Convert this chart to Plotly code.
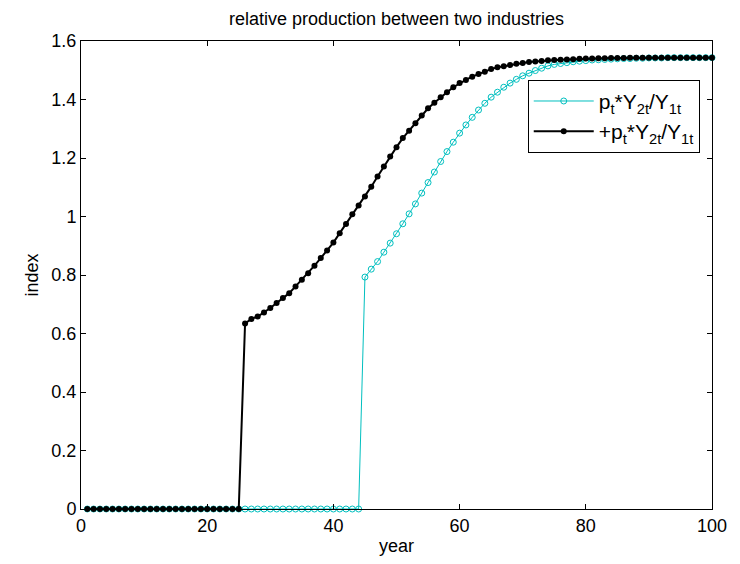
import plotly.graph_objects as go

years = list(range(1, 101))

# cyan series: p_t*Y_2t/Y_1t  (zero until year 44)
cyan_vals = [0.0] * 44 + [
    0.793, 0.820, 0.846, 0.878, 0.909, 0.941, 0.975, 1.009, 1.043, 1.080,
    1.116, 1.152, 1.188, 1.222, 1.254, 1.285, 1.313, 1.339, 1.364, 1.387,
    1.408, 1.425, 1.442, 1.456, 1.469, 1.481, 1.490, 1.499, 1.507, 1.515,
    1.520, 1.523, 1.526, 1.529, 1.531, 1.533, 1.535, 1.536, 1.537, 1.538,
    1.539, 1.540, 1.540, 1.541, 1.541, 1.542, 1.542, 1.542, 1.543, 1.543,
    1.543, 1.543, 1.543, 1.543, 1.543, 1.543,
]

# black series: +p_t*Y_2t/Y_1t  (zero until year 25)
black_vals = [0.0] * 25 + [
    0.634, 0.650, 0.658, 0.672, 0.687, 0.704, 0.721, 0.738, 0.761, 0.784,
    0.806, 0.832, 0.858, 0.884, 0.911, 0.943, 0.974, 1.008, 1.038, 1.068,
    1.102, 1.137, 1.171, 1.205, 1.237, 1.268, 1.293, 1.319, 1.345, 1.370,
    1.389, 1.408, 1.425, 1.442, 1.456, 1.467, 1.478, 1.487, 1.495, 1.504,
    1.510, 1.514, 1.518, 1.522, 1.525, 1.528, 1.530, 1.532, 1.534, 1.535,
    1.536, 1.537, 1.538, 1.539, 1.540, 1.540, 1.541, 1.541, 1.542, 1.542,
    1.542, 1.543, 1.543, 1.543, 1.543, 1.543, 1.543, 1.543, 1.543, 1.543,
    1.543, 1.543, 1.543, 1.543, 1.543,
]

x_ticks = [0, 20, 40, 60, 80, 100]
y_ticks = [0, 0.2, 0.4, 0.6, 0.8, 1.0, 1.2, 1.4, 1.6]
y_tick_text = ["0", "0.2", "0.4", "0.6", "0.8", "1", "1.2", "1.4", "1.6"]

CYAN = "rgb(0,191,191)"
FONT = "Liberation Sans, Arial, sans-serif"
FS = 18

fig = go.Figure()
fig.add_trace(go.Scatter(
    x=years, y=cyan_vals, mode="lines+markers",
    name="p<sub>t</sub>*Y<sub>2t</sub>/Y<sub>1t</sub>",
    line=dict(color=CYAN, width=1),
    marker=dict(symbol="circle-open", size=6, color=CYAN, line=dict(width=1, color=CYAN)),
    cliponaxis=False,
))
fig.add_trace(go.Scatter(
    x=years, y=black_vals, mode="lines+markers",
    name="+p<sub>t</sub>*Y<sub>2t</sub>/Y<sub>1t</sub>",
    line=dict(color="black", width=2),
    marker=dict(symbol="circle", size=6, color="black"),
    cliponaxis=False,
))

fig.update_layout(
    width=740, height=564,
    margin=dict(l=81, r=28, t=41, b=55),
    paper_bgcolor="white", plot_bgcolor="white",
    font=dict(family=FONT, size=FS, color="black"),
    title=dict(text="relative production between two industries", x=0.5, xref="paper",
               xanchor="center", y=1 - 19 / 564, yanchor="middle",
               font=dict(family=FONT, size=FS, color="black")),
    showlegend=True,
    legend=dict(x=0.708, y=0.917, xanchor="left", yanchor="top",
                bgcolor="white", bordercolor="black", borderwidth=1,
                font=dict(family=FONT, size=21, color="black"),
                itemwidth=60, tracegroupgap=0),
)
fig.update_xaxes(
    range=[0, 100], tickvals=x_ticks, ticktext=[str(v) for v in x_ticks],
    ticks="inside", ticklen=5, tickcolor="black", mirror="allticks",
    showline=True, linecolor="black", linewidth=1, showgrid=False, zeroline=False,
    title=dict(text="year", standoff=4, font=dict(family=FONT, size=FS)),
    tickfont=dict(family=FONT, size=FS),
)
fig.update_yaxes(
    range=[0, 1.6], tickvals=y_ticks, ticktext=y_tick_text,
    ticks="inside", ticklen=5, tickcolor="black", mirror="allticks",
    showline=True, linecolor="black", linewidth=1, showgrid=False, zeroline=False,
    title=dict(text="index", standoff=8, font=dict(family=FONT, size=FS)),
    tickfont=dict(family=FONT, size=FS),
)

fig.write_html("out.html")
